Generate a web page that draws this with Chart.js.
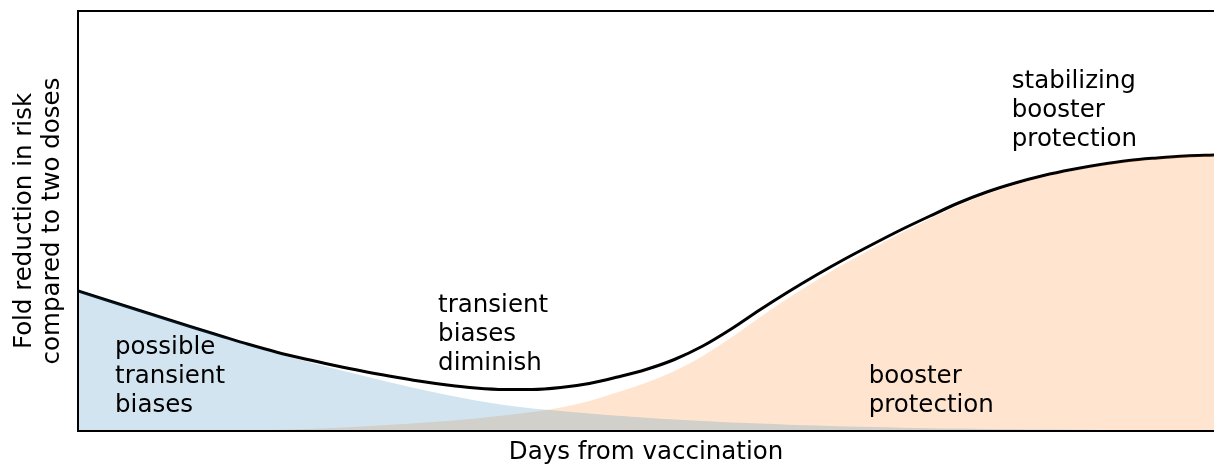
<!DOCTYPE html>
<html>
<head>
<meta charset="utf-8">
<script src="https://cdn.jsdelivr.net/npm/chart.js@4"></script>
<style>
  html, body { margin: 0; padding: 0; background: #fff; }
  #wrap { width: 1214px; height: 466px; }
</style>
</head>
<body>
<div id="wrap"><canvas id="protectionChart" width="1214" height="466"></canvas></div>
<script>
// days since vaccination (arbitrary units, no ticks in the original)
const days = [0, 2.5, 5, 7.5, 10, 12.5, 15, 17.5, 20, 22.5, 25, 27.5, 30, 32.5, 35, 37.5, 40, 42.5, 45, 47.5,
              50, 52.5, 55, 57.5, 60, 62.5, 65, 67.5, 70, 72.5, 75, 77.5, 80, 82.5, 85, 87.5, 90, 92.5, 95, 97.5, 100];
// transient bias component (blue area)
const biasValues = [140, 131, 122, 113, 104, 95, 86, 77.5, 70, 62.5, 55.5, 48.5, 42, 36, 30.5, 26, 22.5, 20, 17.5, 15.2,
                    13.2, 11.5, 10, 8.6, 7.4, 6.3, 5.4, 4.6, 3.9, 3.3, 2.8, 2.4, 2, 1.7, 1.4, 1.2, 1, 0.85, 0.7, 0.6, 0.5];
// booster protection component (orange area)
const boosterValues = [0, 0, 0, 0, 0, 0.3, 0.7, 1.3, 2.1, 3.1, 4.4, 6.2, 8, 10, 12.5, 15.5, 19, 23.5, 30, 38.8,
                       48.3, 60, 75, 93.4, 113.6, 132.7, 150.6, 167.4, 183.1, 198.2, 212.2, 225.6, 237, 246.3, 254.1, 260.3, 265.5, 269.7, 272.3, 274.4, 275.5];
// observed total (black line)
const totalValues = [140, 131, 122, 113, 104, 95.3, 86.7, 78.8, 72, 65.8, 60, 54.8, 50, 46, 43, 41.5, 41.5, 43.5, 47.5, 54,
                     61.5, 71.5, 85, 102, 121, 139, 156, 172, 187, 201.5, 215, 228, 239, 248, 255.5, 261.5, 266.5, 270.5, 273, 275, 276];

const annotations = [
    { lines: ['possible', 'transient', 'biases'], x: 3.26, y: 77 },
    { lines: ['transient', 'biases', 'diminish'], x: 31.7, y: 119 },
    { lines: ['stabilizing', 'booster', 'protection'], x: 82.2, y: 343 },
    { lines: ['booster', 'protection'], x: 69.6, y: 48 }
];

const FONT = "'DejaVu Sans', 'Liberation Sans', sans-serif";

const toPoints = (vals) => vals.map((v, i) => ({ x: days[i], y: v }));

const framePlugin = {
    id: 'frame',
    afterDatasetsDraw(chart) {
        const { ctx, chartArea: a, scales } = chart;
        ctx.save();
        ctx.strokeStyle = '#000';
        ctx.lineWidth = 2;
        ctx.beginPath();
        ctx.moveTo(a.right + 2, a.top);
        ctx.lineTo(a.left, a.top);
        ctx.lineTo(a.left, a.bottom);
        ctx.lineTo(a.right + 2, a.bottom);
        ctx.stroke();

        ctx.fillStyle = '#000';
        ctx.font = '24.5px ' + FONT;
        ctx.textAlign = 'left';
        ctx.textBaseline = 'alphabetic';
        annotations.forEach(note => {
            const px = scales.x.getPixelForValue(note.x);
            const py = scales.y.getPixelForValue(note.y);
            note.lines.forEach((t, i) => ctx.fillText(t, px, py + i * 28.8));
        });
        ctx.restore();
    }
};

const ctx = document.getElementById('protectionChart').getContext('2d');
const chart = new Chart(ctx, {
    type: 'line',
    data: {
        datasets: [
            {
                label: 'possible transient biases',
                data: toPoints(biasValues),
                borderWidth: 0,
                borderColor: 'rgba(0,0,0,0)',
                backgroundColor: 'rgba(31, 119, 180, 0.2)',
                fill: 'origin',
                pointRadius: 0,
                cubicInterpolationMode: 'monotone'
            },
            {
                label: 'booster protection',
                data: toPoints(boosterValues),
                borderWidth: 0,
                borderColor: 'rgba(0,0,0,0)',
                backgroundColor: 'rgba(255, 127, 14, 0.2)',
                fill: 'origin',
                pointRadius: 0,
                cubicInterpolationMode: 'monotone'
            },
            {
                label: 'total',
                data: toPoints(totalValues),
                borderWidth: 3,
                borderColor: '#000',
                fill: false,
                pointRadius: 0,
                cubicInterpolationMode: 'monotone'
            }
        ]
    },
    options: {
        responsive: false,
        animation: false,
        layout: { padding: { top: 11, right: 0, left: 0, bottom: 0 } },
        plugins: {
            legend: { display: false },
            tooltip: { enabled: false }
        },
        scales: {
            x: {
                type: 'linear',
                min: 0,
                max: 100,
                grid: { display: false },
                border: { display: false },
                ticks: { display: false },
                title: {
                    display: true,
                    text: 'Days from vaccination',
                    color: '#000',
                    font: { family: FONT, size: 24.5, lineHeight: 1.1 },
                    padding: { top: 0, bottom: 0 }
                },
                afterFit(scale) { scale.height = 35; }
            },
            y: {
                min: 0,
                max: 420,
                grid: { display: false },
                border: { display: false },
                ticks: { display: false },
                title: {
                    display: true,
                    text: ['Fold reduction in risk', 'compared to two doses'],
                    color: '#000',
                    font: { family: FONT, size: 24.5, lineHeight: 1.17 },
                    padding: { top: 10, bottom: 0 }
                },
                afterFit(scale) { scale.width = 78; }
            }
        }
    },
    plugins: [framePlugin]
});
</script>
</body>
</html>
